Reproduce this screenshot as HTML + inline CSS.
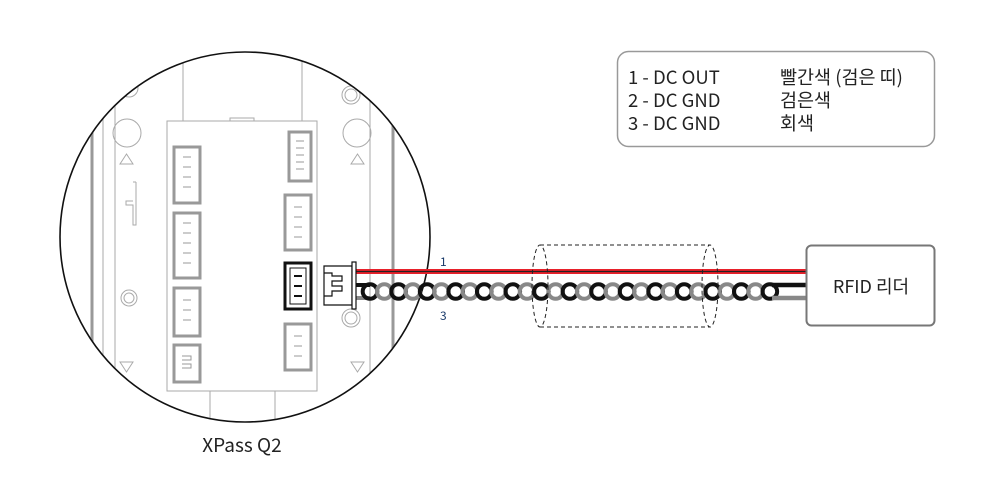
<!DOCTYPE html>
<html><head><meta charset="utf-8"><style>
html,body{margin:0;padding:0;background:#fff;}
svg{display:block}
text{font-family:"Noto Sans CJK KR","Liberation Sans",sans-serif;}
</style></head><body>
<svg width="988" height="501" viewBox="0 0 988 501" xmlns="http://www.w3.org/2000/svg">
<defs><clipPath id="c"><circle cx="245" cy="237" r="185"/></clipPath></defs>
<g clip-path="url(#c)" fill="none" stroke="#aaa" stroke-width="1">
  <line x1="92" y1="40" x2="92" y2="430" stroke="#999" stroke-width="3"/>
  <line x1="103" y1="40" x2="103" y2="430"/>
  <line x1="115" y1="40" x2="115" y2="430"/>
  <line x1="370" y1="40" x2="370" y2="430"/>
  <line x1="393" y1="40" x2="393" y2="430" stroke="#999" stroke-width="3"/>
  <line x1="183" y1="40" x2="183" y2="121"/>
  <line x1="302" y1="40" x2="302" y2="121"/>
  <line x1="210" y1="391" x2="210" y2="430"/>
  <line x1="275" y1="391" x2="275" y2="430"/>
  <circle cx="127" cy="133" r="14"/>
  <circle cx="357" cy="133" r="14"/>
  <circle cx="129" cy="298" r="8"/><circle cx="129" cy="298" r="5"/>
  <circle cx="351" cy="95" r="9"/><circle cx="351" cy="95" r="6"/>
  <circle cx="129" cy="88" r="9"/>
  <circle cx="351" cy="318" r="9"/><circle cx="351" cy="318" r="6"/>
  <polygon points="120,164 133,164 126.5,154"/>
  <polygon points="351,164 364,164 357.5,154"/>
  <polygon points="120,362 133,362 126.5,372"/>
  <polygon points="351,362 364,362 357.5,372"/>
  <polyline points="136,182 136,225 133,225 133,205 126,205 126,201 133,201"/>
  <polyline points="133,182 136,182"/>
  <rect x="167" y="121" width="150" height="270"/>
  <rect x="230" y="118" width="24" height="3"/>
  <g stroke="#999" stroke-width="3"><rect x="174" y="147" width="26" height="56"/><rect x="174" y="213" width="26" height="65"/><rect x="174" y="288" width="26" height="48"/><rect x="174" y="345" width="26" height="37"/><rect x="289" y="132" width="22" height="49"/><rect x="285" y="195" width="26" height="55"/><rect x="285" y="324" width="26" height="46"/></g>
  <g stroke="#999"><line x1="183" y1="157" x2="191" y2="157"/><line x1="183" y1="167" x2="191" y2="167"/><line x1="183" y1="177" x2="191" y2="177"/><line x1="183" y1="187" x2="191" y2="187"/>
  <line x1="183" y1="223" x2="191" y2="223"/><line x1="183" y1="233" x2="191" y2="233"/><line x1="183" y1="243" x2="191" y2="243"/><line x1="183" y1="253" x2="191" y2="253"/><line x1="183" y1="263" x2="191" y2="263"/>
  <line x1="183" y1="300" x2="191" y2="300"/><line x1="183" y1="310" x2="191" y2="310"/><line x1="183" y1="320" x2="191" y2="320"/>
  <path d="M182,356 h9 v4 h-9 M182,364 h9 v4 h-9"/>
  <line x1="296" y1="141" x2="304" y2="141"/><line x1="296" y1="148" x2="304" y2="148"/><line x1="296" y1="155" x2="304" y2="155"/><line x1="296" y1="162" x2="304" y2="162"/><line x1="296" y1="169" x2="304" y2="169"/>
  <line x1="294" y1="207" x2="302" y2="207"/><line x1="294" y1="217" x2="302" y2="217"/><line x1="294" y1="227" x2="302" y2="227"/><line x1="294" y1="237" x2="302" y2="237"/>
  <line x1="294" y1="336" x2="302" y2="336"/><line x1="294" y1="346" x2="302" y2="346"/><line x1="294" y1="356" x2="302" y2="356"/></g>
</g>
<rect x="285" y="263" width="26" height="46" fill="none" stroke="#111" stroke-width="3"/>
<rect x="290" y="268" width="16" height="36" fill="none" stroke="#111" stroke-width="1"/>
<g stroke="#111" stroke-width="2"><line x1="294" y1="276" x2="302" y2="276"/><line x1="294" y1="286" x2="302" y2="286"/><line x1="294" y1="296" x2="302" y2="296"/></g>
<circle cx="245" cy="237" r="185" fill="none" stroke="#111" stroke-width="1.6"/>
<!-- wires -->
<rect x="356" y="269" width="450" height="5" fill="#e8202a"/>
<line x1="356" y1="271.5" x2="806" y2="271.5" stroke="#222" stroke-width="1.2"/>
<line x1="356" y1="285" x2="370" y2="285" stroke="#111" stroke-width="4"/>
<line x1="356" y1="298" x2="370" y2="298" stroke="#888" stroke-width="4"/>
<g fill="none" stroke-width="4" id="tw"></g>
<line x1="772" y1="285" x2="806" y2="285" stroke="#111" stroke-width="4.5"/>
<line x1="772" y1="298" x2="806" y2="298" stroke="#888" stroke-width="4.5"/>
<!-- plug -->
<path d="M324,266 H352 V305 H324 Z M324,273 h8 v3 h10 v5 h-10 v5 h10 v5 h-10 v5 h-8" fill="#fff" stroke="#111" stroke-width="1.2"/>
<rect x="352" y="262" width="4" height="47" fill="#fff" stroke="#111" stroke-width="1.2"/>
<!-- shield -->
<g fill="none" stroke="#222" stroke-width="1" stroke-dasharray="4,3">
<ellipse cx="540" cy="286" rx="8" ry="41"/>
<ellipse cx="710" cy="286" rx="8" ry="41"/>
<line x1="540" y1="245" x2="710" y2="245"/>
<line x1="540" y1="327" x2="710" y2="327"/>
</g>
<text x="440" y="266" font-size="12" fill="#1a3a6a">1</text>
<text x="440" y="320" font-size="12" fill="#1a3a6a">3</text>
<rect x="806.5" y="245.5" width="128" height="80" rx="5" fill="#fff" stroke="#777" stroke-width="2"/>
<text x="871" y="293" font-size="18" fill="#222" text-anchor="middle">RFID 리더</text>
<rect x="617.5" y="51.5" width="317" height="95" rx="11" fill="#fff" stroke="#999" stroke-width="1.5"/>
<g font-size="18.5" fill="#222">
<text x="628" y="84">1 - DC OUT</text><text x="628" y="107">2 - DC GND</text><text x="628" y="130">3 - DC GND</text>
<text x="780" y="84">빨간색 (검은 띠)</text><text x="780" y="107">검은색</text><text x="780" y="130">회색</text>
</g>
<text x="242" y="452" font-size="19" fill="#222" text-anchor="middle">XPass Q2</text>
</svg>
<script>
var g=document.getElementById('tw'),s='';
for(var i=0;i<29;i++){var x=370+i*14.28;s+='<circle cx="'+x+'" cy="291.5" r="7.3" stroke="'+(i%2?'#888':'#111')+'"/>';}
g.innerHTML=s;
</script>
</body></html>
